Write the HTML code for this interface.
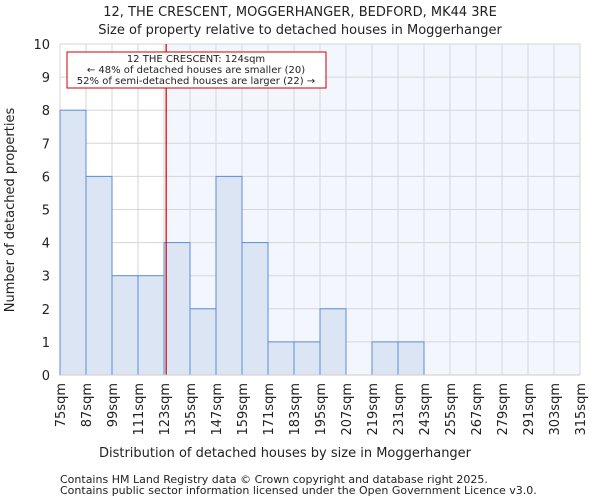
<!DOCTYPE html>
<html><head><meta charset="utf-8"><style>
body{margin:0;background:#fff;font-family:"DejaVu Sans","Liberation Sans",sans-serif;}
svg text{font-family:"DejaVu Sans","Liberation Sans",sans-serif;fill:#222;}
</style></head><body>
<svg id="chart" width="600" height="500" xmlns="http://www.w3.org/2000/svg">
<text x="300" y="16" text-anchor="middle" font-size="13">12, THE CRESCENT, MOGGERHANGER, BEDFORD, MK44 3RE</text>
<text x="300" y="34" text-anchor="middle" font-size="13">Size of property relative to detached houses in Moggerhanger</text>
<g id="plot"></g>
<text x="285" y="457" text-anchor="middle" font-size="13">Distribution of detached houses by size in Moggerhanger</text>
<text transform="translate(14,210) rotate(-90)" text-anchor="middle" font-size="13">Number of detached properties</text>
<text x="60" y="483" font-size="11">Contains HM Land Registry data © Crown copyright and database right 2025.</text>
<text x="60" y="494" font-size="11">Contains public sector information licensed under the Open Government Licence v3.0.</text>
</svg>
<script>
const binStarts=[75,87,99,111,123,135,147,159,171,183,195,207,219,231,243,255,267,279,291,303];
const counts=[8,6,3,3,4,2,6,4,1,1,2,0,1,1,0,0,0,0,0,0];
const xTicks=[75,87,99,111,123,135,147,159,171,183,195,207,219,231,243,255,267,279,291,303,315];
const yTicks=[0,1,2,3,4,5,6,7,8,9,10];
const subjectSize=124;
const NS="http://www.w3.org/2000/svg";
const L=60,R=580,T=44,B=375,xMin=75,xMax=315,yMax=10;
const xs=v=>L+(v-xMin)/(xMax-xMin)*(R-L);
const ys=v=>B-v/yMax*(B-T);
const g=document.getElementById('plot');
function mk(tag,attrs,parent){const e=document.createElementNS(NS,tag);for(const k in attrs)e.setAttribute(k,attrs[k]);(parent||g).appendChild(e);return e;}
let e=mk('rect',{x:xs(subjectSize),y:T,width:R-xs(subjectSize),height:B-T,fill:'#f3f6fd'});


yTicks.forEach(t=>{
 let l=mk('line',{x1:L,x2:R,y1:ys(t),y2:ys(t),stroke:'#d6d6d6','stroke-width':1});
 
 
 let tx=mk('text',{x:L-10,y:ys(t)+5,'text-anchor':'end','font-size':13});tx.textContent=t;
 
 
});
xTicks.forEach(t=>{
 let l=mk('line',{x1:xs(t),x2:xs(t),y1:T,y2:B,stroke:'#d6d6d6','stroke-width':1});
 
 
 let tx=mk('text',{transform:`translate(${xs(t)+5},${B+8}) rotate(-90)`,'text-anchor':'end','font-size':13});tx.textContent=t+'sqm';
 
 
});
binStarts.forEach((s,i)=>{
 if(counts[i]<=0)return;
 let r=mk('rect',{x:xs(s),y:ys(counts[i]),width:xs(s+12)-xs(s),height:B-ys(counts[i]),fill:'#dce5f4',stroke:'#5b8fd6','stroke-width':1});
 
 
});
let rl=mk('line',{x1:xs(subjectSize),x2:xs(subjectSize),y1:T,y2:B,stroke:'#cc0000','stroke-width':1.2});


let box=mk('rect',{x:67,y:52,width:259,height:36,fill:'#fff',stroke:'#cc0000','stroke-width':1});


['12 THE CRESCENT: 124sqm','← 48% of detached houses are smaller (20)','52% of semi-detached houses are larger (22) →'].forEach((s,i)=>{
 let t=mk('text',{x:196,y:62+i*11,'text-anchor':'middle','font-size':10});t.textContent=s;
 
 
});
let ax=mk('line',{x1:L,x2:R,y1:B,y2:B,stroke:'#cccccc'});


</script>
</body></html>
